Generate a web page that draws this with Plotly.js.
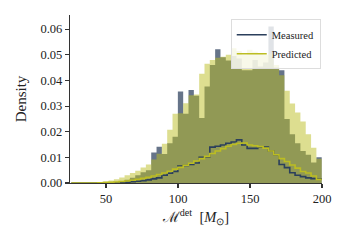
<!DOCTYPE html>
<html>
<head>
<meta charset="utf-8">
<script src="https://cdn.plot.ly/plotly-3.0.1.min.js"></script>
<style>html,body{margin:0;padding:0;background:#fff;}#chart{width:347px;height:247px;}</style>
</head>
<body>
<div id="chart"></div>
<script>
// Histogram bins (left edge of first bin and bin width, in M_sun)
const binStart = 25.9;
const binWidth = 3.7;

// Measured density (filled histogram)
const measuredFill = [
  0, 0, 0, 0, 0,
  0.0000, 0.0001, 0.0002, 0.0004, 0.0008, 0.0013, 0.0020, 0.0030, 0.0042, 0.0050,
  0.0119, 0.0141, 0.0113, 0.0155, 0.0180, 0.0357, 0.0270, 0.0363, 0.0340, 0.0253,
  0.0376, 0.0460, 0.0521, 0.0490, 0.0478, 0.0495, 0.0485, 0.0440, 0.0440, 0.0480,
  0.0454, 0.0470, 0.0610, 0.0450, 0.0440, 0.0250, 0.0190, 0.0155, 0.0125, 0.0110,
  0.0080, 0.0100
];

// Predicted density (filled histogram)
const predictedFill = [
  0, 0, 0, 0, 0,
  0.0004, 0.0007, 0.0010, 0.0015, 0.0021, 0.0030, 0.0039, 0.0048, 0.0060, 0.0072,
  0.0092, 0.0114, 0.0153, 0.0208, 0.0270, 0.0272, 0.0311, 0.0342, 0.0345, 0.0426,
  0.0465, 0.0480, 0.0488, 0.0492, 0.0500, 0.0525, 0.0515, 0.0500, 0.0520, 0.0512,
  0.0505, 0.0500, 0.0505, 0.0460, 0.0420, 0.0360, 0.0310, 0.0275, 0.0240, 0.0190,
  0.0137, 0.0095
];

// Measured step line
const measuredLine = [
  0, 0, 0, 0, 0,
  0.0000, 0.0000, 0.0000, 0.0001, 0.0002, 0.0003, 0.0005, 0.0007, 0.0009, 0.0012,
  0.0016, 0.0020, 0.0030, 0.0038, 0.0045, 0.0066, 0.0068, 0.0072, 0.0078, 0.0100,
  0.0102, 0.0140, 0.0143, 0.0148, 0.0155, 0.0160, 0.0168, 0.0148, 0.0135, 0.0135,
  0.0140, 0.0140, 0.0125, 0.0110, 0.0072, 0.0060, 0.0040, 0.0030, 0.0025, 0.0020,
  0.0017, 0.0016
];

// Predicted step line
const predictedLine = [
  0, 0, 0, 0, 0,
  0.0001, 0.0002, 0.0003, 0.0004, 0.0006, 0.0008, 0.0011, 0.0014, 0.0018, 0.0022,
  0.0027, 0.0033, 0.0039, 0.0046, 0.0054, 0.0061, 0.0069, 0.0077, 0.0086, 0.0095,
  0.0104, 0.0115, 0.0125, 0.0134, 0.0143, 0.0150, 0.0155, 0.0156, 0.0148, 0.0145,
  0.0142, 0.0136, 0.0125, 0.0110, 0.0095, 0.0084, 0.0070, 0.0058, 0.0045, 0.0039,
  0.0027, 0.0014
];

const xTicks = [50, 100, 150, 200];

function stepXY(vals) {
  const xs = [], ys = [];
  for (let i = 0; i < vals.length; i++) {
    xs.push(binStart + i * binWidth);
    ys.push(vals[i]);
  }
  xs.push(binStart + vals.length * binWidth);
  ys.push(vals[vals.length - 1]);
  return {x: xs, y: ys};
}

const measColor = '#2b3f5c';
const predColor = '#bcbd22';
const font = 'Liberation Serif, Times New Roman, serif';

const mF = stepXY(measuredFill), pF = stepXY(predictedFill);
const mL = stepXY(measuredLine), pL = stepXY(predictedLine);

const traces = [
  {x: mF.x, y: mF.y, type: 'scatter', mode: 'lines', line: {shape: 'hv', width: 0, color: measColor},
   fill: 'tozeroy', fillcolor: 'rgba(43,63,92,0.72)', showlegend: false, hoverinfo: 'skip'},
  {x: pF.x, y: pF.y, type: 'scatter', mode: 'lines', line: {shape: 'hv', width: 0, color: predColor},
   fill: 'tozeroy', fillcolor: 'rgba(188,189,34,0.5)', showlegend: false, hoverinfo: 'skip'},
  {x: mL.x, y: mL.y, type: 'scatter', mode: 'lines', name: 'Measured',
   line: {shape: 'hv', width: 1.6, color: measColor}},
  {x: pL.x, y: pL.y, type: 'scatter', mode: 'lines', name: 'Predicted',
   line: {shape: 'hv', width: 1.6, color: predColor}}
];

const layout = {
  width: 347, height: 247,
  margin: {l: 70, r: 25, t: 15, b: 64},
  paper_bgcolor: '#fff', plot_bgcolor: '#fff',
  font: {family: font, size: 12.5, color: '#222'},
  xaxis: {
    range: [25, 200], tickvals: xTicks, ticktext: xTicks.map(String),
    showline: true, linecolor: '#333', linewidth: 1.2, ticks: 'outside', ticklen: 4,
    tickcolor: '#333', tickwidth: 1.1, showgrid: false, zeroline: false,
    title: {text: 'ℳ<sup>det</sup>  [<i>M</i><sub>⊙</sub>]', font: {family: font, size: 14.5}, standoff: 6}
  },
  yaxis: {
    range: [0, 0.0655], dtick: 0.01, tickformat: '.2f',
    showline: true, linecolor: '#333', linewidth: 1.2, ticks: 'outside', ticklen: 4,
    tickcolor: '#333', tickwidth: 1.1, showgrid: false, zeroline: false,
    title: {text: 'Density', font: {family: font, size: 15}, standoff: 10}
  },
  legend: {
    x: 0.995, y: 0.975, xanchor: 'right', yanchor: 'top',
    bgcolor: 'rgba(255,255,255,0.8)', bordercolor: '#dddddd', borderwidth: 1,
    font: {family: font, size: 10.5, color: '#222'},
    itemwidth: 30
  }
};

Plotly.newPlot('chart', traces, layout, {displayModeBar: false, staticPlot: true});
</script>
</body>
</html>
